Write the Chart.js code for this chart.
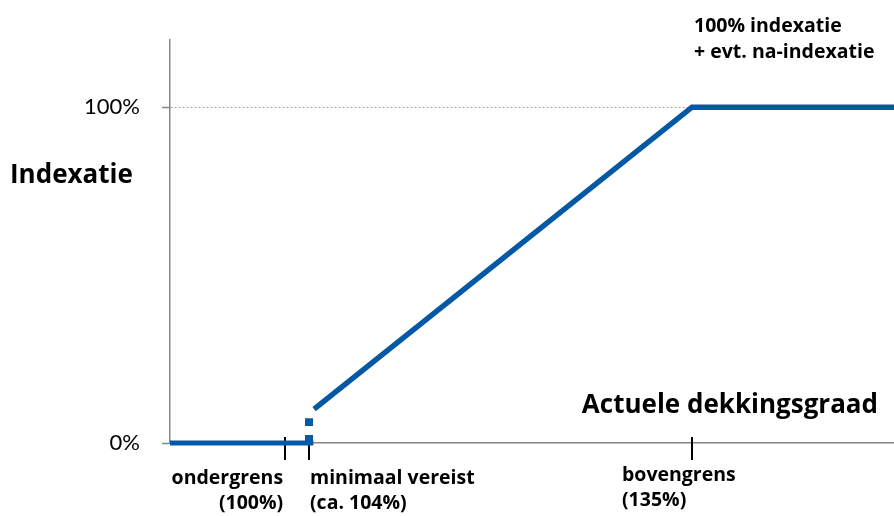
<!DOCTYPE html>
<html lang="nl">
<head>
<meta charset="UTF-8">
<title>Indexatie en actuele dekkingsgraad</title>
<script src="https://cdn.jsdelivr.net/npm/chart.js"></script>
<style>
    html, body { margin: 0; padding: 0; background: #ffffff; }
    #wrap { width: 894px; height: 516px; position: relative; }
</style>
</head>
<body>
<div id="wrap"><canvas id="myChart"></canvas></div>
<script>
// x = positie langs de as (0 = y-as, 100 = rechterrand), y = indexatie in %
const flatX = [0, 19.8];
const flatY = [0, 0];
const stepX = [19.2, 19.2];
const stepY = [0, 7.4];
const riseX = [19.9, 72.1, 100];
const riseY = [10.1, 100, 100];

const yTicks = [0, 100];
const xTicks = [15.9, 19.2, 72.1];
const xTickLabels = [
    ['ondergrens', '(100%)'],
    ['minimaal vereist', '(ca. 104%)'],
    ['bovengrens', '(135%)']
];
const yTitle = 'Indexatie';
const xTitle = 'Actuele dekkingsgraad';
const topNote = ['100% indexatie', '+ evt. na-indexatie'];

const BLUE = '#0558a3';
const AXIS = '#868686';
const FONT = 'Lato, "Open Sans", sans-serif';
const BOLD = '"Open Sans", Lato, sans-serif';

const toPoints = (xs, ys) => xs.map((x, i) => ({ x: x, y: ys[i] }));

// teksten en streepjes op de x-as
const textPlugin = {
    id: 'texts',
    beforeDatasetsDraw(chart) {
        const ctx = chart.ctx;
        const xs = chart.scales.x;
        const base = chart.chartArea.bottom;
        ctx.save();
        ctx.strokeStyle = '#000';
        ctx.lineWidth = 2;
        xTicks.forEach(v => {
            const px = Math.round(xs.getPixelForValue(v));
            ctx.beginPath();
            ctx.moveTo(px, base - 6);
            ctx.lineTo(px, base + 17);
            ctx.stroke();
        });
        ctx.restore();
    },
    afterDraw(chart) {
        const ctx = chart.ctx;
        const xs = chart.scales.x;
        const base = chart.chartArea.bottom;
        ctx.save();
        ctx.fillStyle = '#000';
        ctx.textBaseline = 'middle';

        // labels onder de x-as: uitlijning per label
        const aligns = ['right', 'left', 'left'];
        const shifts = [-2, 1, -70];
        const lift = [0, 0, 3];
        ctx.font = 'bold 19.5px ' + BOLD;
        xTickLabels.forEach((lines, i) => {
            const px = xs.getPixelForValue(xTicks[i]) + shifts[i];
            ctx.textAlign = aligns[i];
            lines.forEach((t, j) => {
                ctx.fillText(t, px, base + 35 - lift[i] + j * 25);
            });
        });

        ctx.textAlign = 'left';
        ctx.font = 'bold 26px ' + BOLD;
        ctx.fillText(yTitle, 10, 176);
        ctx.textAlign = 'right';
        ctx.fillText(xTitle, 878, 406);

        ctx.textAlign = 'left';
        ctx.font = 'bold 19.5px ' + BOLD;
        topNote.forEach((t, j) => ctx.fillText(t, 694, 26 + j * 26));
        ctx.restore();
    }
};

const lineStyle = {
    borderColor: BLUE,
    pointRadius: 0,
    tension: 0,
    fill: false,
    clip: false,
    borderCapStyle: 'butt',
    borderJoinStyle: 'miter'
};

new Chart(document.getElementById('myChart'), {
    type: 'line',
    data: {
        datasets: [
            Object.assign({ data: toPoints(flatX, flatY), borderWidth: 5 }, lineStyle),
            Object.assign({ data: toPoints(stepX, stepY), borderWidth: 8, borderDash: [8, 9] }, lineStyle),
            Object.assign({ data: toPoints(riseX, riseY), borderWidth: 5.5 }, lineStyle)
        ]
    },
    options: {
        responsive: true,
        maintainAspectRatio: false,
        animation: false,
        layout: { padding: { top: 40, right: 0, bottom: 0, left: 0 } },
        plugins: {
            legend: { display: false },
            tooltip: { enabled: false }
        },
        scales: {
            x: {
                type: 'linear',
                min: 0,
                max: 100,
                ticks: { display: false },
                grid: { display: false },
                border: { color: AXIS, width: 1.5 },
                afterFit: s => { s.height = 73; }
            },
            y: {
                type: 'linear',
                min: 0,
                max: 120,
                afterBuildTicks: s => { s.ticks = yTicks.map(v => ({ value: v })); },
                afterFit: s => { s.width = 170; },
                ticks: {
                    padding: 22,
                    color: '#000',
                    font: { family: FONT, size: 22 },
                    callback: v => v + '%'
                },
                grid: {
                    color: c => (c.tick && c.tick.value === 100) ? '#a0a0a0' : 'rgba(0,0,0,0)',
                    lineWidth: 1,
                    tickLength: 8,
                    tickColor: AXIS,
                    tickWidth: 1.5,
                    tickBorderDash: []
                },
                border: { color: AXIS, width: 1.5, dash: [2, 2] }
            }
        }
    },
    plugins: [textPlugin]
});
</script>
</body>
</html>
